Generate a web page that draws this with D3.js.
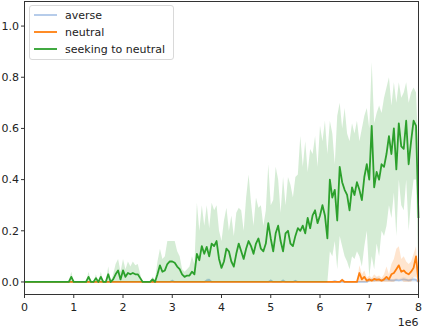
<!DOCTYPE html>
<html>
<head>
<script src="https://d3js.org/d3.v7.min.js"></script>
<style>
  body { margin: 0; background: #fff; }
  text { font-family: "DejaVu Sans", sans-serif; fill: #222; }
</style>
</head>
<body>
<script>
// training steps, one sample every 50k steps (0 .. 8e6)
const steps = d3.range(161).map(i => i * 50000);

// seeking to neutral (green)
const seekMean = [
  0,0,0,0,0,0,0,0,0,0,
  0,0,0,0,0,0,0,0,0,0.02,
  0,0,0,0,0,0,0.02,0,0,0.015,
  0,0.02,0,0,0.03,0,0.01,0.03,0.045,0.01,
  0.045,0.02,0.035,0.03,0.035,0.03,0.03,0.015,0,0,
  0,0,0.01,0,0.03,0.065,0.04,0.045,0.07,0.08,
  0.08,0.075,0.06,0.05,0.03,0.02,0.025,0.025,0.04,0.03,
  0.11,0.085,0.14,0.11,0.137,0.1,0.15,0.14,0.16,0.09,
  0.055,0.08,0.13,0.12,0.08,0.06,0.11,0.15,0.12,0.09,
  0.13,0.16,0.14,0.11,0.15,0.17,0.13,0.12,0.15,0.23,
  0.17,0.12,0.19,0.22,0.16,0.12,0.19,0.2,0.15,0.14,
  0.18,0.21,0.2,0.22,0.19,0.25,0.21,0.26,0.28,0.23,
  0.26,0.3,0.26,0.17,0.4,0.33,0.36,0.24,0.45,0.39,
  0.36,0.34,0.28,0.37,0.34,0.39,0.36,0.32,0.41,0.46,
  0.4,0.61,0.37,0.43,0.4,0.46,0.45,0.5,0.57,0.5,
  0.6,0.44,0.62,0.53,0.52,0.63,0.46,0.55,0.63,0.61,
  0.25
];
const seekHigh = [
  0,0,0,0,0,0,0,0,0,0,
  0,0,0,0,0,0,0,0,0.005,0.04,
  0,0,0,0,0,0,0.04,0,0,0.03,
  0,0.04,0,0,0.06,0,0.03,0.07,0.09,0.04,
  0.09,0.05,0.08,0.06,0.08,0.065,0.07,0.03,0,0,
  0,0,0.02,0.01,0.08,0.13,0.09,0.1,0.16,0.16,
  0.16,0.16,0.12,0.1,0.05,0.04,0.05,0.06,0.1,0.07,
  0.31,0.2,0.3,0.22,0.3,0.21,0.31,0.28,0.3,0.2,
  0.16,0.24,0.29,0.2,0.26,0.18,0.27,0.29,0.28,0.2,
  0.33,0.42,0.31,0.22,0.33,0.29,0.3,0.22,0.28,0.46,
  0.3,0.32,0.45,0.4,0.27,0.41,0.3,0.41,0.38,0.33,
  0.41,0.42,0.57,0.45,0.55,0.43,0.52,0.5,0.57,0.45,
  0.61,0.55,0.63,0.5,0.63,0.58,0.46,0.65,0.7,0.6,
  0.68,0.58,0.55,0.62,0.58,0.63,0.55,0.6,0.65,0.68,
  0.6,0.86,0.62,0.66,0.69,0.66,0.72,0.76,0.8,0.69,
  0.78,0.7,0.78,0.72,0.74,0.78,0.7,0.74,0.76,0.74,
  0.5
];
const seekLow = [
  0,0,0,0,0,0,0,0,0,0, 0,0,0,0,0,0,0,0,0,0,
  0,0,0,0,0,0,0,0,0,0, 0,0,0,0,0,0,0,0,0,0,
  0,0,0,0,0,0,0,0,0,0, 0,0,0,0,0,0,0,0,0,0,
  0,0,0,0,0,0,0,0,0,0, 0,0,0,0,0,0,0,0,0,0,
  0,0,0,0,0,0,0,0,0,0, 0,0,0,0,0,0,0,0,0,0,
  0,0,0,0,0,0,0,0,0,0, 0,0,0,0,0,0,0,0,0,0,
  0,0,0,0,0.12,0.1,0.16,0.05,0.18,0.14,
  0.1,0.08,0.05,0.1,0.09,0.12,0.1,0.06,0.14,0.2,
  0.02,0.1,0.05,0.15,0.1,0.2,0.18,0.22,0.3,0.25,
  0.35,0.18,0.4,0.3,0.28,0.4,0.2,0.32,0.4,0.4,
  0
];

// neutral (orange)
const neutMean = [
  0,0,0,0,0,0,0,0,0,0, 0,0,0,0,0,0,0,0,0,0,
  0,0,0,0,0,0,0,0,0,0, 0,0,0,0,0,0,0,0,0,0,
  0,0,0,0,0,0,0,0,0,0, 0,0,0,0,0,0,0,0,0,0,
  0,0,0,0,0,0,0,0,0,0, 0,0,0,0,0,0,0,0,0,0,
  0,0,0,0,0,0,0,0,0,0, 0,0,0,0,0,0,0,0,0,0,
  0,0,0,0,0,0,0,0,0,0, 0,0,0,0,0,0,0,0,0,0,
  0,0,0,0,0,0,0,0,0,0.008,
  0,0,0,0,0,0,0.035,0.01,0.02,0.005,
  0.01,0.005,0.012,0.008,0.01,0.005,0.01,0.02,0.01,0.03,
  0.035,0.05,0.065,0.04,0.045,0.035,0.03,0.04,0.055,0.1,
  0
];
const neutHigh = [
  0,0,0,0,0,0,0,0,0,0, 0,0,0,0,0,0,0,0,0,0,
  0,0,0,0,0,0,0,0,0,0, 0,0,0,0,0,0,0,0,0,0,
  0,0,0,0,0,0,0,0,0,0, 0,0,0,0,0,0,0,0,0,0,
  0,0,0,0,0,0,0,0,0,0, 0,0,0,0,0,0,0,0,0,0,
  0,0,0,0,0,0,0,0,0,0, 0,0,0,0,0,0,0,0,0,0,
  0,0,0,0,0,0,0,0,0,0, 0,0,0,0,0,0,0,0,0,0,
  0,0,0,0,0,0,0,0,0,0.015,
  0,0,0,0,0,0,0.065,0.03,0.045,0.015,
  0.025,0.015,0.03,0.02,0.025,0.015,0.03,0.06,0.03,0.07,
  0.09,0.13,0.14,0.09,0.1,0.08,0.07,0.08,0.11,0.14,
  0
];
const neutLow = [
  0,0,0,0,0,0,0,0,0,0, 0,0,0,0,0,0,0,0,0,0,
  0,0,0,0,0,0,0,0,0,0, 0,0,0,0,0,0,0,0,0,0,
  0,0,0,0,0,0,0,0,0,0, 0,0,0,0,0,0,0,0,0,0,
  0,0,0,0,0,0,0,0,0,0, 0,0,0,0,0,0,0,0,0,0,
  0,0,0,0,0,0,0,0,0,0, 0,0,0,0,0,0,0,0,0,0,
  0,0,0,0,0,0,0,0,0,0, 0,0,0,0,0,0,0,0,0,0,
  0,0,0,0,0,0,0,0,0,0, 0,0,0,0,0,0,0,0,0,0,
  0,0,0,0,0,0,0,0,0,0,
  0,0.01,0.01,0.01,0,0,0,0,0.02,0.02,
  0
];

// averse (light blue)
const avMean = [
  0,0,0,0,0,0,0,0,0,0, 0,0,0,0,0,0,0,0,0,0,
  0,0,0,0,0,0,0,0,0,0, 0,0,0,0,0,0,0,0,0,0,
  0,0,0,0,0,0,0,0,0,0, 0,0,0,0,0,0,0,0,0,0,
  0.005,0,0,0,0,0,0,0,0,0, 0,0,0,0,0.006,0.008,0,0,0,0,
  0,0,0,0,0,0,0,0,0,0, 0,0,0,0,0,0,0,0,0,0,
  0.006,0,0,0,0,0.006,0,0,0,0, 0.004,0,0,0,0,0,0,0,0,0,
  0,0,0,0,0,0,0.003,0,0,0, 0,0,0,0,0,0,0,0,0,0,
  0.006,0.008,0.006,0.01,0.008,0.006,0.008,0.01,0.008,0.006,
  0.006,0.008,0.006,0.008,0.01,0.008,0.006,0.008,0.01,0.008,
  0
];
const avHigh = [
  0,0,0,0,0,0,0,0,0,0, 0,0,0,0,0,0,0,0,0,0,
  0,0,0,0,0,0,0,0,0,0, 0,0,0,0,0,0,0,0,0,0,
  0,0,0,0,0,0,0,0,0,0, 0,0,0,0,0,0,0,0,0,0,
  0.012,0,0,0,0,0,0,0,0,0, 0,0,0,0,0.014,0.016,0,0,0,0,
  0,0,0,0,0,0,0,0,0,0, 0,0,0,0,0,0,0,0,0,0,
  0.013,0,0,0,0,0.013,0,0,0,0, 0.01,0,0,0,0,0,0,0,0,0,
  0,0,0,0,0,0,0.008,0,0,0, 0,0,0,0,0,0,0,0,0,0,
  0.012,0.016,0.012,0.02,0.016,0.012,0.016,0.02,0.016,0.012,
  0.012,0.016,0.012,0.016,0.02,0.016,0.012,0.016,0.02,0.016,
  0
];

const xTicks = [0, 1, 2, 3, 4, 5, 6, 7, 8];
const yTicks = [0, 0.2, 0.4, 0.6, 0.8, 1.0];

const series = [
  { name: "averse", color: "#aec7e8", mean: avMean, low: avMean.map(() => 0), high: avHigh },
  { name: "neutral", color: "#ff7f0e", mean: neutMean, low: neutLow, high: neutHigh },
  { name: "seeking to neutral", color: "#2ca02c", mean: seekMean, low: seekLow, high: seekHigh }
];

const width = 423, height = 328;
const padL = 24.5, padR = 418.5, padT = 1.5, padB = 294.5;
const fontSize = 11;

const svg = d3.select("body").append("svg")
  .attr("width", width)
  .attr("height", height);

const x = d3.scaleLinear().domain([0, 8e6]).range([padL, padR]);
const y = d3.scaleLinear().domain([-0.049, 1.096]).range([padB, padT]);

const plot = svg.append("g");

const area = (s) => d3.area()
  .x((d, i) => x(steps[i]))
  .y0((d, i) => y(s.low[i]))
  .y1((d, i) => y(s.high[i]));

const line = d3.line()
  .x((d, i) => x(steps[i]))
  .y(d => y(d));

series.forEach(s => {
  plot.append("path")
    .datum(s.mean)
    .attr("d", area(s))
    .attr("fill", s.color)
    .attr("fill-opacity", 0.2);
  plot.append("path")
    .datum(s.mean)
    .attr("d", line)
    .attr("fill", "none")
    .attr("stroke", s.color)
    .attr("stroke-width", 1.8)
    .attr("stroke-linejoin", "round");
});

// spines
svg.append("rect")
  .attr("x", padL).attr("y", padT)
  .attr("width", padR - padL).attr("height", padB - padT)
  .attr("fill", "none")
  .attr("stroke", "#333")
  .attr("stroke-width", 1);

// x axis
const xAxis = svg.append("g");
xAxis.selectAll("line")
  .data(xTicks).enter().append("line")
  .attr("x1", d => x(d * 1e6)).attr("x2", d => x(d * 1e6))
  .attr("y1", padB).attr("y2", padB + 3.5)
  .attr("stroke", "#333");
xAxis.selectAll("text")
  .data(xTicks).enter().append("text")
  .attr("x", d => x(d * 1e6))
  .attr("y", padB + 16)
  .attr("text-anchor", "middle")
  .attr("font-size", fontSize)
  .text(d => d);
svg.append("text")
  .attr("x", padR)
  .attr("y", padB + 31)
  .attr("text-anchor", "end")
  .attr("font-size", fontSize)
  .text("1e6");

// y axis
const yAxis = svg.append("g");
yAxis.selectAll("line")
  .data(yTicks).enter().append("line")
  .attr("x1", padL - 3.5).attr("x2", padL)
  .attr("y1", d => y(d)).attr("y2", d => y(d))
  .attr("stroke", "#333");
yAxis.selectAll("text")
  .data(yTicks).enter().append("text")
  .attr("x", padL - 5.5)
  .attr("y", d => y(d))
  .attr("dy", "0.35em")
  .attr("text-anchor", "end")
  .attr("font-size", fontSize)
  .text(d => d.toFixed(1));

// legend
const legend = svg.append("g");
legend.append("rect")
  .attr("x", 29.5).attr("y", 5.5)
  .attr("width", 144).attr("height", 54)
  .attr("rx", 2.5)
  .attr("fill", "#fff").attr("fill-opacity", 0.8)
  .attr("stroke", "#d9d9d9");
series.forEach((s, i) => {
  const ly = 15 + i * 17;
  legend.append("line")
    .attr("x1", 34).attr("x2", 57)
    .attr("y1", ly).attr("y2", ly)
    .attr("stroke", s.color)
    .attr("stroke-width", 1.8);
  legend.append("text")
    .attr("x", 65).attr("y", ly)
    .attr("dy", "0.35em")
    .attr("font-size", fontSize)
    .text(s.name);
});
</script>
</body>
</html>
